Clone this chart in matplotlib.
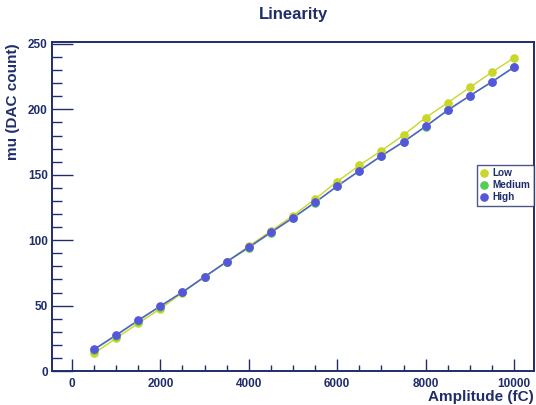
#!/usr/bin/env python3
"""
Linearity plot: DAC count mean vs injected amplitude for the three gain ranges
"""

import os
import matplotlib
matplotlib.use("Agg")
import matplotlib.pyplot as plt
from matplotlib import font_manager
from matplotlib.ticker import MultipleLocator

# Helvetica-like bold face; make sure the regular-width file is used
bold_file = None
for f in font_manager.findSystemFonts():
    if os.path.basename(f) == "LiberationSans-Bold.ttf":
        bold_file = f
        break
if bold_file:
    font_manager.fontManager.addfont(bold_file)
    fp = font_manager.FontProperties(fname=bold_file)
else:
    fp = font_manager.FontProperties(family="Liberation Sans", weight="bold")


def bfont(size):
    p = fp.copy()
    p.set_size(size)
    return p


# Injected charge (fC)
amplitude = [500, 1000, 1500, 2000, 2500, 3000, 3500, 4000, 4500, 5000,
             5500, 6000, 6500, 7000, 7500, 8000, 8500, 9000, 9500, 10000]

# Fitted mu per gain setting
mu_low = [13.5, 25.0, 36.4, 47.6, 59.9, 71.8, 83.6, 95.4, 107.0, 118.7,
          131.5, 144.8, 157.2, 168.4, 180.4, 193.7, 205.1, 216.9, 228.4, 239.5]
mu_medium = [16.2, 27.1, 38.4, 49.3, 60.1, 71.8, 83.3, 94.3, 105.7, 116.9,
             128.7, 141.1, 152.8, 164.3, 175.0, 186.8, 199.2, 210.2, 220.9, 232.1]
mu_high = [16.6, 27.5, 38.8, 49.7, 60.4, 72.1, 83.6, 94.6, 106.0, 117.2,
           129.0, 141.4, 153.1, 164.6, 175.3, 187.1, 199.5, 210.5, 221.2, 232.4]

series = [
    ("Low", mu_low, "#c9d62a"),
    ("Medium", mu_medium, "#55cc55"),
    ("High", mu_high, "#5555dd"),
]

navy = "#1f2d6b"

fig = plt.figure(figsize=(5.36, 4.05), dpi=100)
ax = fig.add_axes([52 / 536, 34 / 405, 482 / 536, 329 / 405])

for name, mu, col in series:
    ax.plot(amplitude, mu, '-', color=col, lw=1.0, zorder=2)
    ax.plot(amplitude, mu, 'o', color=col, ms=5.2, mec=col, label=name, zorder=3)

ax.set_xlim(-450, 10450)
ax.set_ylim(0, 251.5)

ax.xaxis.set_major_locator(MultipleLocator(2000))
ax.xaxis.set_minor_locator(MultipleLocator(500))
ax.yaxis.set_major_locator(MultipleLocator(50))
ax.yaxis.set_minor_locator(MultipleLocator(10))

ax.tick_params(axis='x', which='major', direction='in', length=9, width=1,
               color=navy, labelcolor=navy, pad=5)
ax.tick_params(axis='x', which='minor', direction='in', length=4.5, width=1,
               color=navy)
ax.tick_params(axis='y', which='major', direction='in', length=15, width=1,
               color=navy, labelcolor=navy, pad=3)
ax.tick_params(axis='y', which='minor', direction='in', length=7, width=1,
               color=navy)
for lab in ax.get_xticklabels() + ax.get_yticklabels():
    lab.set_fontproperties(bfont(8.5))

for sp in ax.spines.values():
    sp.set_color(navy)
    sp.set_linewidth(1.4)

fig.text(534 / 536, 1 - 397 / 405, "Amplitude (fC)", fontproperties=bfont(11),
         color=navy, ha='right', va='center')
fig.text(13 / 536, 1 - 43 / 405, "mu (DAC count)", fontproperties=bfont(11),
         color=navy, ha='center', va='top', rotation=90)
fig.text(293 / 536, 1 - 15 / 405, "Linearity", fontproperties=bfont(12),
         color=navy, ha='center', va='center')

leg = ax.legend(loc='upper right', bbox_to_anchor=(534 / 536, 1 - 165 / 405),
                bbox_transform=fig.transFigure, prop=bfont(7.2), frameon=True,
                fancybox=False, borderpad=0.35, handlelength=0.8,
                handletextpad=0.45, labelspacing=0.2, borderaxespad=0)
leg.get_frame().set_edgecolor(navy)
leg.get_frame().set_linewidth(1.0)
for t in leg.get_texts():
    t.set_color(navy)

fig.savefig("out.png", dpi=100)
